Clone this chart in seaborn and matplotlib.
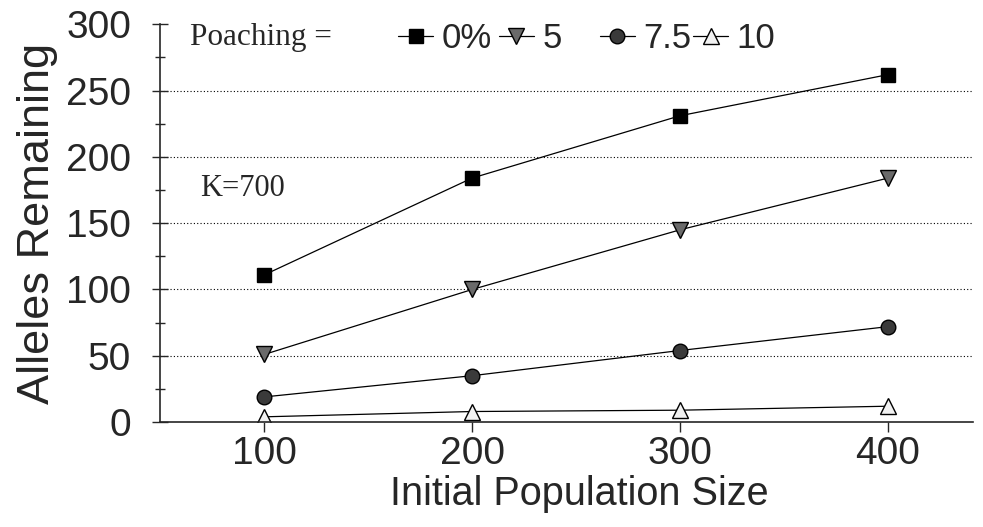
import numpy as np
import pandas as pd
import seaborn as sns
import matplotlib
matplotlib.use("Agg")
import matplotlib.pyplot as plt
from matplotlib.ticker import MultipleLocator

# data
population = [100, 200, 300, 400]
poaching_levels = ["0%", "5", "7.5", "10"]
alleles_0 = [111, 184, 231, 262]
alleles_5 = [51, 100, 145, 184]
alleles_75 = [19, 35, 54, 72]
alleles_10 = [4, 8, 9, 12]

df = pd.DataFrame({
    "Initial Population Size": population * 4,
    "Alleles Remaining": alleles_0 + alleles_5 + alleles_75 + alleles_10,
    "Poaching": np.repeat(poaching_levels, len(population)),
})

sns.set_style("ticks")
plt.rcParams["font.family"] = ["Liberation Sans", "DejaVu Sans"]

styles = {
    "0%": dict(marker="s", markerfacecolor="black", markersize=10.5),
    "5": dict(marker="v", markerfacecolor="#6a6a6a", markersize=11.5),
    "7.5": dict(marker="o", markerfacecolor="#3a3a3a", markersize=10.5),
    "10": dict(marker="^", markerfacecolor="#f2f2f2", markersize=11.5),
}

fig, ax = plt.subplots(figsize=(9.83, 5.27), dpi=100)
fig.subplots_adjust(left=0.163, right=0.99, bottom=0.199, top=0.954)

for lvl in poaching_levels:
    sub = df[df["Poaching"] == lvl]
    sns.lineplot(data=sub, x="Initial Population Size", y="Alleles Remaining",
                 color="black", linewidth=0.9, markeredgecolor="black",
                 markeredgewidth=1.0, label=lvl, ax=ax, **styles[lvl])

# dotted reference lines
for lev in [50, 100, 150, 200, 250]:
    ax.axhline(lev, color="black", linestyle=(0, (1, 2)), linewidth=0.8, zorder=0)

ax.set_xlim(50, 441)
ax.set_ylim(0, 300)
ax.set_xticks(population)
ax.yaxis.set_major_locator(MultipleLocator(50))
ax.yaxis.set_minor_locator(MultipleLocator(25))
ax.tick_params(axis="y", which="major", direction="inout", length=12, width=1, labelsize=28, pad=15)
ax.tick_params(axis="y", which="minor", direction="inout", length=7, width=1)
ax.tick_params(axis="x", which="major", direction="out", length=7, width=1, labelsize=28, pad=3)
sns.despine(ax=ax)
for sp in ["left", "bottom"]:
    ax.spines[sp].set_linewidth(1.2)

ax.set_xlabel("Initial Population Size", fontsize=28.5, labelpad=0)
ax.xaxis.set_label_coords(0.515, -0.132)
ax.set_ylabel("Alleles Remaining", fontsize=32.5, labelpad=6)

# legend in two groups, as in the original
handles, labels = ax.get_legend_handles_labels()
leg_kw = dict(loc="upper left", ncol=2, frameon=False, fontsize=25, handlelength=1.0,
              handletextpad=0.25, columnspacing=0.2, borderaxespad=0, borderpad=0)
leg1 = ax.legend(handles[:2], labels[:2], bbox_to_anchor=(0.293, 1.005), **leg_kw)
ax.add_artist(leg1)
ax.legend(handles[2:], labels[2:], bbox_to_anchor=(0.541, 1.005),
          **{**leg_kw, "columnspacing": 0.05})

fig.text(190 / 983, 1 - 38 / 527, "Poaching =", family="Liberation Serif",
         fontsize=22.5, va="center", ha="left")
ax.text(200 / 983, 1 - 188 / 527, "K=700", family="Liberation Serif",
        fontsize=22, va="center", ha="left", transform=fig.transFigure)

fig.savefig("out.png", dpi=100)
